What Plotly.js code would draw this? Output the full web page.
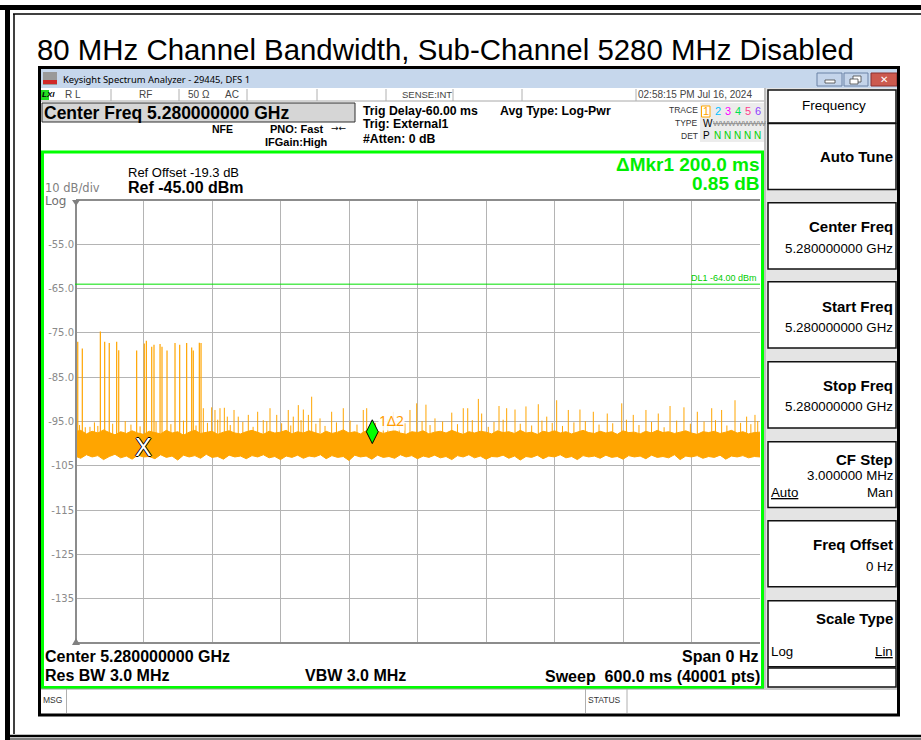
<!DOCTYPE html>
<html><head><meta charset="utf-8">
<script src="https://cdn.plot.ly/plotly-3.0.1.min.js"></script>
<style>html,body{margin:0;padding:0;background:#fff;}#chart{width:921px;height:740px;}</style>
</head><body><div id="chart"></div>
<script>
// ---------------- DATA ----------------
const chartTitle = '80 MHz Channel Bandwidth, Sub-Channel 5280 MHz Disabled';
const yTickVals = [-55,-65,-75,-85,-95,-105,-115,-125,-135];
const yTickText = ['-55.0','-65.0','-75.0','-85.0','-95.0','-105','-115','-125','-135'];
const xGridVals = [60,120,180,240,300,360,420,480,540];
const displayLine = -64;

const bandTimes = [0,5,10,15,20,25,30,35,40,45,50,55,60,65,70,75,80,85,90,95,100,105,110,115,120,125,130,135,140,145,150,155,160,165,170,175,180,185,190,195,200,205,210,215,220,225,230,235,240,245,250,255,260,265,270,275,280,285,290,295,300,305,310,315,320,325,330,335,340,345,350,355,360,365,370,375,380,385,390,395,400,405,410,415,420,425,430,435,440,445,450,455,460,465,470,475,480,485,490,495,500,505,510,515,520,525,530,535,540,545,550,555,560,565,570,575,580,585,590,595,600];
const bandUpper = [
-97.3,-97.0,-97.8,-97.2,-97.6,-96.9,-97.5,-98.0,-97.3,-97.7,
-97.1,-97.6,-97.9,-97.2,-97.5,-97.8,-97.0,-97.6,-97.3,-98.1,
-97.4,-97.0,-97.7,-97.5,-97.2,-97.9,-97.4,-97.1,-97.6,-97.8,
-97.3,-97.0,-97.5,-97.9,-97.2,-97.6,-97.4,-97.0,-97.8,-97.3,
-97.6,-97.1,-97.5,-97.9,-97.2,-97.7,-97.4,-96.9,-97.6,-97.3,
-97.8,-97.1,-97.5,-97.2,-97.7,-97.4,-97.0,-97.6,-97.9,-97.3,
-97.5,-97.1,-97.8,-97.4,-97.2,-97.6,-97.0,-97.5,-97.9,-97.3,
-97.6,-97.2,-97.4,-97.8,-97.1,-97.5,-97.3,-97.7,-97.0,-97.6,
-97.4,-97.9,-97.2,-97.5,-97.1,-97.6,-97.3,-97.8,-97.4,-97.0,
-97.5,-97.7,-97.2,-97.6,-97.3,-97.9,-97.1,-97.5,-97.4,-97.8,
-97.2,-97.6,-97.0,-97.5,-97.3,-97.7,-97.4,-97.1,-97.6,-97.9,
-97.3,-97.5,-97.2,-97.7,-97.4,-97.0,-97.6,-97.3,-97.8,-97.5,
-97.4];
const bandLower = [
-102.8,-103.3,-102.5,-103.0,-102.7,-103.6,-102.9,-102.4,-103.2,-102.8,
-103.5,-102.6,-103.0,-102.9,-103.4,-102.5,-103.1,-102.8,-103.7,-102.6,
-103.0,-102.7,-103.3,-102.4,-103.1,-102.9,-103.5,-102.6,-103.0,-102.8,
-103.4,-102.7,-103.0,-102.5,-103.2,-102.9,-103.6,-102.8,-103.1,-102.6,
-103.3,-102.8,-103.0,-102.5,-103.4,-102.7,-103.1,-102.9,-103.8,-102.6,
-103.0,-102.8,-103.5,-102.6,-103.1,-102.9,-103.3,-102.5,-103.0,-102.7,
-103.4,-102.8,-103.1,-102.6,-103.2,-102.9,-103.6,-102.7,-103.0,-102.5,
-103.2,-102.8,-103.5,-102.9,-103.0,-102.6,-103.3,-102.8,-103.7,-102.9,
-103.1,-102.6,-103.4,-102.8,-103.0,-102.5,-103.2,-102.9,-103.6,-102.7,
-103.0,-102.8,-103.3,-102.6,-103.1,-102.9,-103.5,-102.7,-103.0,-102.8,
-103.4,-102.6,-103.1,-102.9,-103.2,-102.5,-103.6,-102.8,-103.0,-102.7,
-103.3,-102.9,-103.1,-102.6,-103.5,-102.8,-103.0,-102.7,-103.2,-102.9,
-103.0];

const spikeBase = -99;
const tallTimes = [2.4,6.4,22.2,26.0,30.0,36.5,38.3,54.0,60.7,62.5,67.2,69.2,74.5,76.2,80.6,87.6,91.7,97.8,102.2,103.6,108.9,110.4];
const tallPeaks = [-77.0,-78.5,-74.7,-77.0,-77.3,-77.0,-78.9,-79.0,-77.4,-76.8,-78.1,-77.7,-77.5,-78.1,-79.0,-77.3,-77.7,-77.3,-78.3,-79.0,-77.2,-77.3];
const medTimes = [13.1,112.4,119.7,122.6,127.0,130.8,133.4,139.3,143.0,151.8,160.0,164.9,170.8,176.7,186.8,191.2,195.6,200.0,204.4,207.3,214.6,224.8,235.0,252.5,255.5,270.0,278.8,293.4,299.3,307.4,315.3,330.0,340.1,344.0,353.3,356.2,371.4,378.1,385.4,395.0,405.8,413.2,421.9,432.1,442.3,454.0,466.2,478.9,489.0,500.1,510.9,521.2,533.4,545.1,557.7,566.4,578.1,588.3,595.6];
const medPeaks = [-96.2,-92.0,-91.8,-92.4,-92.0,-91.9,-93.9,-92.4,-93.9,-93.5,-92.8,-94.7,-92.0,-93.5,-92.4,-93.9,-91.3,-92.3,-93.5,-89.4,-94.3,-92.8,-92.0,-92.4,-92.0,-93.9,-92.8,-92.4,-90.9,-91.2,-94.3,-93.0,-92.0,-92.0,-89.9,-93.2,-91.5,-92.0,-92.3,-91.6,-91.1,-93.9,-90.2,-92.4,-92.3,-92.8,-93.2,-90.9,-93.5,-92.4,-93.2,-91.5,-91.8,-92.8,-92.0,-92.4,-90.2,-93.9,-93.5];
const smallTimes = [4,9,17,20,33,44,49,57,71,84,95,106,116,125,136,147,156,168,181,189,198,211,219,229,241,247,263,274,284,289,304,311,322,335,348,362,367,375,390,400,409,418,427,437,447,459,471,483,494,505,516,527,539,551,561,571,583,592,598];
const smallPeaks = [-95.8,-96.3,-95.2,-96.0,-95.5,-94.9,-95.7,-96.1,-95.0,-95.6,
-94.8,-95.9,-95.3,-94.6,-95.8,-95.1,-96.2,-94.9,-95.4,-95.9,
-94.7,-95.5,-96.0,-95.2,-94.8,-95.7,-95.3,-94.5,-96.1,-95.4,
-94.9,-95.8,-95.0,-95.6,-94.7,-96.2,-95.1,-94.6,-95.5,-95.9,
-94.8,-95.3,-96.0,-95.2,-94.9,-95.7,-95.4,-94.6,-95.8,-95.1,
-96.3,-94.8,-95.5,-95.0,-94.7,-95.9,-95.3,-95.6,-94.9];

const mkrTimes = [260.4, 60.4];   // marker 1 (delta), marker 2 (ref)
const mkrValues = [-97.3, -100.7];

// ---------------- LAYOUT HELPERS ----------------
const L=75,R=760,T=200,B=643;
const fx=x=>(x-L)/(R-L), fy=y=>(B-y)/(B-T);
const shapes=[], ann=[];
const SANS='Liberation Sans, Arial, sans-serif';
function rect(x0,y0,x1,y1,fill,lc,lw,layer){shapes.push({type:'rect',xref:'paper',yref:'paper',layer:layer||'above',x0:fx(x0),x1:fx(x1),y0:fy(y1),y1:fy(y0),fillcolor:fill||'rgba(0,0,0,0)',line:{color:lc||'rgba(0,0,0,0)',width:lw||0}});}
function line(x0,y0,x1,y1,c,w){shapes.push({type:'line',xref:'paper',yref:'paper',x0:fx(x0),x1:fx(x1),y0:fy(y0),y1:fy(y1),line:{color:c,width:w}});}
function tri(pts,fill){shapes.push({type:'path',xref:'paper',yref:'paper',path:'M'+pts.map(p=>fx(p[0])+','+fy(p[1])).join(' L')+' Z',fillcolor:fill,line:{width:0}});}
function txt(x,y,t,o){o=o||{};ann.push({xref:'paper',yref:'paper',x:fx(x),y:fy(y),text:t,showarrow:false,xanchor:o.a||'left',yanchor:'middle',borderpad:0,font:{family:o.f||SANS,size:o.s||12,color:o.c||'#000'}});}

// outer document border
line(0,7.5,921,7.5,'#000',5);
line(13,14,921,14,'#000',1.5);
line(7.5,5,7.5,740,'#000',5);
line(14,14,14,734,'#000',1.5);
line(5,736,921,736,'#000',2.5);
line(5,739,921,739,'#000',1.2);
txt(36,50,chartTitle,{s:29.4});

// window
rect(40,68,898,714,'#ffffff',null,0,'below');
rect(40,68,898,88,'#c6d7ec');
rect(43,72,57,85,'#9a9a9a'); rect(43,80,57,84,'#d02828');
txt(62,79,'Keysight Spectrum Analyzer - 29445, DFS 1',{s:9.4,f:'Noto Sans, sans-serif'});
rect(817,73,842,86,'#c4d4ea','#6a82a6',1); rect(825,80,835,83,'#ffffff','#444',0.8);
rect(844,73,868,86,'#c4d4ea','#6a82a6',1); rect(853,76,861,82,'#ffffff','#444',0.8); rect(850,79,858,84,'#ffffff','#444',0.8);
rect(871,73,897,86,'#cc5a4e','#8a3030',1);
txt(884,79.5,'<b>✕</b>',{s:10,a:'center',c:'#fff',f:'DejaVu Sans'});

// status row
rect(41,89,766,101,'#ffffff');
line(41,101,766,101,'#a8a8a8',1);
[111,179,247,317,386,453,522,636].forEach(x=>line(x,89,x,101,'#b0b0b0',1));
rect(41,90,49,100,'#22dd22');
txt(40.5,95,'<b><i>LXI</i></b>',{s:8});
const stc='#444';
txt(64,95,'R L',{s:10,c:stc});
txt(145,95,'RF',{s:10,c:stc,a:'center'});
txt(187,95,'50 Ω',{s:10,c:stc});
txt(224,95,'AC',{s:10,c:stc});
txt(401,95,'SENSE:INT',{s:9.5,c:stc});
txt(637,95,'02:58:15 PM Jul 16, 2024',{s:10,c:stc});

// header
rect(42,103,355,122,'#d6d6d6','#303030',1);
txt(43,113,'<b>Center Freq 5.280000000 GHz</b>',{s:17.5});
txt(211,129,'<b>NFE</b>',{s:10.5});
txt(269,129,'<b>PNO: Fast</b>',{s:11});
txt(330,128,'→←',{s:9,f:'DejaVu Sans'});
txt(264,142,'<b>IFGain:High</b>',{s:11});
txt(362,111,'<b>Trig Delay-60.00 ms</b>',{s:12.3});
txt(362,124.5,'<b>Trig: External1</b>',{s:12.3});
txt(362,139.5,'<b>#Atten: 0 dB</b>',{s:12.3});
txt(499,111,'<b>Avg Type: Log-Pwr</b>',{s:12.3});
txt(699,110,'TRACE',{s:8.5,a:'right',c:'#333'});
txt(699,123,'TYPE',{s:8.5,a:'right',c:'#333'});
txt(699,136,'DET',{s:8.5,a:'right',c:'#333'});
rect(700,103,765,142,'#ececec');
rect(701.5,106,710,117,'#ffffff','#ffa500',1);
const trCols=['#ffa500','#00c0ff','#ff00ff','#00e050','#ff3c8c','#9040ff'];
[705.8,717.7,727.7,737.7,747.7,758.3].forEach((x,i)=>txt(x,111.5,String(i+1),{s:11,a:'center',c:trCols[i]}));
txt(702,123.5,'W',{s:10});
txt(711.5,123.5,'<s>WWWWWWW</s>',{s:8,c:'#888'});
txt(702,136,'P',{s:10});
txt(713,136,'N N N N N',{s:10,c:'#00d000'});

// green frame
rect(42.5,152,762.5,687.5,null,'#00ff00',3);

// right panel
rect(764,88,897,688,'#e4e4e4');
line(765,88,765,688,'#9a9a9a',1);
const boxes=[[90,123],[123.5,189.5],[202.7,269],[281.7,348],[361.7,428],[441.7,507.5],[520.7,586.7],[600.7,666.7],[668,687]];
boxes.forEach(b=>rect(768,b[0],896,b[1],'#ffffff','#111',1.5));
txt(833.5,105,'Frequency',{s:13.5,a:'center'});
txt(894,157,'<b>Auto Tune</b>',{s:15,a:'right'});
txt(894,226.5,'<b>Center Freq</b>',{s:15,a:'right'});
txt(894,248,'5.280000000 GHz',{s:13.3,a:'right'});
txt(894,306,'<b>Start Freq</b>',{s:15,a:'right'});
txt(894,327.3,'5.280000000 GHz',{s:13.3,a:'right'});
txt(894,385,'<b>Stop Freq</b>',{s:15,a:'right'});
txt(894,406.7,'5.280000000 GHz',{s:13.3,a:'right'});
txt(894,459.3,'<b>CF Step</b>',{s:15,a:'right'});
txt(894,475.5,'3.000000 MHz',{s:13.3,a:'right'});
txt(770,492.7,'<u>Auto</u>',{s:13.3});
txt(894,492.7,'Man',{s:13.3,a:'right'});
txt(894,544.3,'<b>Freq Offset</b>',{s:15,a:'right'});
txt(894,566,'0 Hz',{s:13.3,a:'right'});
txt(894,618.3,'<b>Scale Type</b>',{s:15,a:'right'});
txt(770,651.7,'Log',{s:13.3});
txt(894,651.7,'<u>Lin</u>',{s:13.3,a:'right'});

// msg row
rect(41,689,897,713,'#ffffff');
line(41,689,897,689,'#9a9a9a',1);
[66.5,585.5,627].forEach(x=>line(x,689,x,713,'#b0b0b0',1));
txt(42,700,'MSG',{s:8.5,c:'#333'});
txt(587,700,'STATUS',{s:8.5,c:'#333'});

// window border (on top)
rect(39.5,67.5,898.5,715,null,'#000',3);

// graticule annotations
txt(127,172,'Ref Offset -19.3 dB',{s:13});
txt(127,188,'<b>Ref -45.00 dBm</b>',{s:16});
txt(44,188,'10 dB/div',{s:11.5,f:'DejaVu Sans, sans-serif',c:'#808080'});
txt(44,200.5,'Log',{s:12,f:'DejaVu Sans, sans-serif',c:'#707070'});
txt(761,164,'<b>ΔMkr1 200.0 ms</b>',{s:19,a:'right',c:'#00ee00'});
txt(761,183.5,'<b>0.85 dB</b>',{s:19,a:'right',c:'#00ee00'});
txt(758,278,'DL1 -64.00 dBm',{s:9,a:'right',c:'#00cc00'});
txt(44,656,'<b>Center 5.280000000 GHz</b>',{s:16});
txt(44,675,'<b>Res BW 3.0 MHz</b>',{s:16});
txt(304,675,'<b>VBW 3.0 MHz</b>',{s:16});
txt(759,656.5,'<b>Span 0 Hz</b>',{s:16,a:'right'});
txt(761,676,'<b>Sweep  600.0 ms (40001 pts)</b>',{s:16,a:'right'});

// graticule border
line(76,200,760,200,'#8c8c8c',2);
line(76,200,76,643,'#8c8c8c',2);
line(76,643,760,643,'#8c8c8c',2);
tri([[72,200],[80,200],[76,206]],'#808080');
tri([[72,645],[80,645],[76,638]],'#808080');

// display line (data coords)
shapes.push({type:'line',xref:'x',yref:'y',x0:0,x1:600,y0:displayLine,y1:displayLine,line:{color:'#00e000',width:1}});

// markers annotations
ann.push({xref:'x',yref:'y',x:mkrTimes[0],y:mkrValues[0],text:'1Δ2',showarrow:false,xanchor:'left',yanchor:'middle',xshift:6,yshift:11,bgcolor:'rgba(255,255,255,0.85)',borderpad:0,font:{family:'Noto Sans, sans-serif',size:14,color:'#ff9c00'}});
ann.push({xref:'x',yref:'y',x:mkrTimes[1],y:mkrValues[1],text:'X',showarrow:false,xanchor:'center',yanchor:'middle',font:{family:SANS,size:25,color:'#ffffff',shadow:'1px 0 0 #000, -1px 0 0 #000, 0 1px 0 #000, 0 -1px 0 #000'}});

// ---------------- TRACES ----------------
function spikes(times,peaks,base){const x=[],y=[];times.forEach((t,i)=>{x.push(t,t,null);y.push(base,peaks[i],null);});return {x,y};}
const orange='#ffa500';
const sS=spikes(smallTimes,smallPeaks,spikeBase), sM=spikes(medTimes,medPeaks,spikeBase), sT=spikes(tallTimes,tallPeaks,spikeBase);
const traces=[
 {x:bandTimes,y:bandLower,mode:'lines',line:{color:orange,width:1},hoverinfo:'skip'},
 {x:bandTimes,y:bandUpper,mode:'lines',fill:'tonexty',fillcolor:orange,line:{color:orange,width:1},hoverinfo:'skip'},
 {x:sS.x,y:sS.y,mode:'lines',line:{color:orange,width:1},connectgaps:false,hoverinfo:'skip'},
 {x:sM.x,y:sM.y,mode:'lines',line:{color:orange,width:1},connectgaps:false,hoverinfo:'skip'},
 {x:sT.x,y:sT.y,mode:'lines',line:{color:orange,width:1.2},connectgaps:false,hoverinfo:'skip'},
 {x:[mkrTimes[0]],y:[mkrValues[0]],mode:'markers',marker:{symbol:'diamond-tall',size:17,color:'#00ff00',line:{color:'#000',width:1}},hoverinfo:'skip'}
];

const layout={
 width:921,height:740,showlegend:false,
 margin:{l:75,r:161,t:200,b:97,pad:0},
 paper_bgcolor:'#ffffff',plot_bgcolor:'rgba(0,0,0,0)',
 font:{family:SANS,size:12,color:'#000'},
 xaxis:{range:[0,600],tickvals:xGridVals,showticklabels:false,ticks:'',showgrid:true,gridcolor:'#b4b4b4',gridwidth:1,zeroline:false,showline:false,fixedrange:true},
 yaxis:{range:[-145,-45],tickvals:yTickVals,ticktext:yTickText,ticks:'',showgrid:true,gridcolor:'#b4b4b4',gridwidth:1,zeroline:false,showline:false,fixedrange:true,
   tickfont:{family:'DejaVu Sans, sans-serif',size:10,color:'#8a8a8a'}},
 shapes:shapes,annotations:ann
};
Plotly.newPlot('chart',traces,layout,{displayModeBar:false,staticPlot:true});
</script>
</body></html>
